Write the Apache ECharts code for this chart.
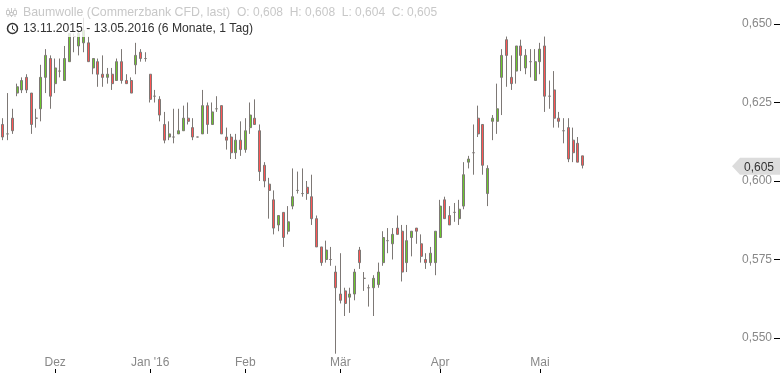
<!DOCTYPE html>
<html>
<head>
<meta charset="utf-8">
<script src="https://cdn.jsdelivr.net/npm/echarts@6/dist/echarts.min.js"></script>
<style>
  html, body { margin: 0; padding: 0; background: #fff; }
  #main { width: 780px; height: 373px; }
</style>
</head>
<body>
<div id="main"></div>
<script>
const dates = [
  '13.11.2015', '16.11.2015', '17.11.2015', '18.11.2015', '19.11.2015', '20.11.2015', '23.11.2015', '24.11.2015', '25.11.2015', '27.11.2015', '30.11.2015',
  '01.12.2015', '02.12.2015', '03.12.2015', '04.12.2015', '07.12.2015', '08.12.2015', '09.12.2015', '10.12.2015', '11.12.2015', '14.12.2015',
  '15.12.2015', '16.12.2015', '17.12.2015', '18.12.2015', '21.12.2015', '22.12.2015', '23.12.2015', '28.12.2015', '29.12.2015', '30.12.2015',
  '04.01.2016', '05.01.2016', '06.01.2016', '07.01.2016', '08.01.2016', '11.01.2016', '12.01.2016', '13.01.2016', '14.01.2016', '15.01.2016',
  '18.01.2016', '19.01.2016', '20.01.2016', '21.01.2016', '22.01.2016', '25.01.2016', '26.01.2016', '27.01.2016', '28.01.2016', '29.01.2016',
  '01.02.2016', '02.02.2016', '03.02.2016', '04.02.2016', '05.02.2016', '08.02.2016', '09.02.2016', '10.02.2016', '11.02.2016', '12.02.2016',
  '16.02.2016', '17.02.2016', '18.02.2016', '19.02.2016', '22.02.2016', '23.02.2016', '24.02.2016', '25.02.2016', '26.02.2016', '29.02.2016',
  '01.03.2016', '02.03.2016', '03.03.2016', '04.03.2016', '07.03.2016', '08.03.2016', '09.03.2016', '10.03.2016', '11.03.2016', '14.03.2016',
  '15.03.2016', '16.03.2016', '17.03.2016', '18.03.2016', '21.03.2016', '22.03.2016', '23.03.2016', '24.03.2016', '29.03.2016', '30.03.2016', '31.03.2016',
  '01.04.2016', '04.04.2016', '05.04.2016', '06.04.2016', '07.04.2016', '08.04.2016', '11.04.2016', '12.04.2016', '13.04.2016', '14.04.2016',
  '15.04.2016', '18.04.2016', '19.04.2016', '20.04.2016', '21.04.2016', '22.04.2016', '25.04.2016', '26.04.2016', '27.04.2016', '28.04.2016', '29.04.2016',
  '02.05.2016', '03.05.2016', '04.05.2016', '05.05.2016', '06.05.2016', '09.05.2016', '10.05.2016', '11.05.2016', '12.05.2016', '13.05.2016'
];

const opens = [
  0.618, 0.615, 0.620, 0.628, 0.629, 0.633, 0.628, 0.620, 0.623, 0.633,
  0.639, 0.631, 0.635, 0.632, 0.638, 0.646, 0.643, 0.644, 0.644, 0.636,
  0.638, 0.634, 0.633, 0.634, 0.632, 0.638, 0.632, 0.632, 0.637, 0.641,
  0.639, 0.634, 0.627, 0.626, 0.618, 0.614, 0.614, 0.615, 0.616, 0.620,
  0.617, 0.614, 0.615, 0.624, 0.618, 0.623, 0.624, 0.614, 0.614, 0.609,
  0.613, 0.610, 0.617, 0.620, 0.616, 0.605, 0.599, 0.594, 0.586, 0.590,
  0.584, 0.592, 0.597, 0.596, 0.598, 0.595, 0.588, 0.579, 0.575, 0.575,
  0.571, 0.564, 0.565, 0.563, 0.564, 0.578, 0.569, 0.566, 0.566, 0.567,
  0.574, 0.581, 0.580, 0.585, 0.584, 0.574, 0.582, 0.585, 0.580, 0.575,
  0.574, 0.574, 0.582, 0.594, 0.589, 0.590, 0.588, 0.592, 0.606, 0.609,
  0.620, 0.618, 0.596, 0.619, 0.619, 0.633, 0.645, 0.633, 0.635, 0.643,
  0.636, 0.638, 0.632, 0.638, 0.643, 0.627, 0.629, 0.620, 0.616, 0.617,
  0.613, 0.612, 0.608
];
const closes = [
  0.614, 0.615, 0.616, 0.630, 0.632, 0.629, 0.618, 0.620, 0.633, 0.640,
  0.627, 0.636, 0.635, 0.639, 0.647, 0.646, 0.647, 0.648, 0.638, 0.639,
  0.634, 0.633, 0.634, 0.631, 0.638, 0.632, 0.631, 0.628, 0.640, 0.639,
  0.639, 0.626, 0.627, 0.621, 0.613, 0.615, 0.614, 0.616, 0.620, 0.619,
  0.614, 0.614, 0.624, 0.618, 0.622, 0.623, 0.615, 0.613, 0.609, 0.613,
  0.610, 0.616, 0.621, 0.618, 0.603, 0.600, 0.597, 0.585, 0.589, 0.582,
  0.587, 0.595, 0.597, 0.596, 0.596, 0.588, 0.579, 0.574, 0.578, 0.575,
  0.566, 0.562, 0.561, 0.564, 0.571, 0.574, 0.569, 0.566, 0.569, 0.571,
  0.582, 0.581, 0.583, 0.583, 0.571, 0.581, 0.584, 0.584, 0.576, 0.574,
  0.577, 0.584, 0.592, 0.588, 0.586, 0.590, 0.591, 0.602, 0.607, 0.609,
  0.615, 0.605, 0.604, 0.620, 0.623, 0.640, 0.640, 0.631, 0.643, 0.640,
  0.640, 0.638, 0.638, 0.642, 0.627, 0.627, 0.620, 0.619, 0.616, 0.607,
  0.609, 0.606, 0.605
];
const lows = [
  0.613, 0.613, 0.615, 0.627, 0.628, 0.628, 0.615, 0.617, 0.619, 0.628,
  0.623, 0.628, 0.633, 0.632, 0.638, 0.641, 0.640, 0.641, 0.638, 0.634,
  0.630, 0.630, 0.631, 0.629, 0.632, 0.631, 0.631, 0.628, 0.634, 0.638,
  0.638, 0.625, 0.625, 0.619, 0.612, 0.613, 0.612, 0.615, 0.616, 0.618,
  0.613, 0.614, 0.615, 0.615, 0.618, 0.622, 0.615, 0.610, 0.607, 0.607,
  0.608, 0.609, 0.615, 0.618, 0.600, 0.598, 0.588, 0.583, 0.584, 0.579,
  0.583, 0.591, 0.596, 0.595, 0.594, 0.586, 0.579, 0.573, 0.574, 0.573,
  0.545, 0.561, 0.557, 0.558, 0.562, 0.572, 0.565, 0.560, 0.557, 0.566,
  0.573, 0.577, 0.575, 0.583, 0.568, 0.571, 0.576, 0.580, 0.574, 0.572,
  0.573, 0.570, 0.582, 0.588, 0.586, 0.587, 0.586, 0.591, 0.604, 0.602,
  0.614, 0.602, 0.592, 0.613, 0.615, 0.621, 0.630, 0.629, 0.631, 0.635,
  0.634, 0.633, 0.632, 0.634, 0.622, 0.623, 0.617, 0.617, 0.612, 0.606,
  0.606, 0.606, 0.604
];
const highs = [
  0.620, 0.628, 0.623, 0.631, 0.633, 0.634, 0.628, 0.623, 0.637, 0.642,
  0.640, 0.639, 0.639, 0.643, 0.647, 0.647, 0.648, 0.652, 0.646, 0.639,
  0.639, 0.640, 0.636, 0.636, 0.639, 0.642, 0.634, 0.633, 0.644, 0.642,
  0.641, 0.634, 0.629, 0.627, 0.622, 0.619, 0.623, 0.623, 0.624, 0.625,
  0.620, 0.614, 0.629, 0.625, 0.625, 0.627, 0.624, 0.617, 0.615, 0.615,
  0.619, 0.620, 0.625, 0.626, 0.618, 0.606, 0.601, 0.597, 0.589, 0.590,
  0.592, 0.604, 0.603, 0.604, 0.600, 0.602, 0.589, 0.579, 0.581, 0.579,
  0.573, 0.577, 0.566, 0.566, 0.572, 0.579, 0.571, 0.567, 0.570, 0.574,
  0.584, 0.585, 0.585, 0.589, 0.586, 0.586, 0.584, 0.585, 0.583, 0.577,
  0.579, 0.584, 0.594, 0.595, 0.592, 0.593, 0.594, 0.606, 0.608, 0.618,
  0.624, 0.618, 0.605, 0.621, 0.631, 0.642, 0.646, 0.640, 0.643, 0.645,
  0.642, 0.642, 0.642, 0.644, 0.646, 0.632, 0.635, 0.622, 0.620, 0.620,
  0.617, 0.614, 0.608
];

const emptySlots = new Array(41).fill('');  // free room between last candle and price scale
const yTicks = [0.55, 0.575, 0.6, 0.625, 0.65];
const monthDates = ['01.12.2015', '04.01.2016', '01.02.2016', '01.03.2016', '01.04.2016', '02.05.2016'];
const monthLabels = ['Dez', "Jan '16", 'Feb', 'Mär', 'Apr', 'Mai'];

const titleText = 'Baumwolle (Commerzbank CFD, last)';
const ohlcText = 'O: 0,608  H: 0,608  L: 0,604  C: 0,605';
const rangeText = '13.11.2015 - 13.05.2016 (6 Monate, 1 Tag)';
const lastPrice = closes[closes.length - 1];

const fontName = '"Liberation Sans", Arial, sans-serif';
const wickColor = '#7d7875';

function priceText(v) {
  return v.toFixed(3).replace('.', ',');
}

const candles = dates.map((d, i) => [opens[i], closes[i], lows[i], highs[i]]);

const chart = echarts.init(document.getElementById('main'), null, {renderer: 'canvas'});
chart.setOption({
  animation: false,
  backgroundColor: '#fff',
  grid: {left: 0.5, right: 0, top: 0, bottom: 0},
  xAxis: {
    type: 'category',
    data: dates.concat(emptySlots),
    axisLine: {show: false},
    axisTick: {
      show: true,
      inside: true,
      length: 4,
      alignWithLabel: true,
      interval: (i, v) => monthDates.includes(v),
      lineStyle: {color: '#000'},
    },
    axisLabel: {
      inside: true,
      margin: 4,
      color: '#888',
      fontFamily: fontName,
      fontSize: 12,
      interval: (i, v) => monthDates.includes(v),
      formatter: (v) => monthLabels[monthDates.indexOf(v)],
    },
    splitLine: {show: false},
  },
  yAxis: {
    type: 'value',
    position: 'right',
    min: 0.53885,
    max: 0.65764,
    axisLine: {show: false},
    axisTick: {
      show: true,
      inside: true,
      length: 6,
      customValues: yTicks,
      lineStyle: {color: '#000'},
    },
    axisLabel: {
      inside: true,
      margin: 8,
      padding: [5, 0, 0, 0],
      color: '#888',
      fontFamily: fontName,
      fontSize: 12,
      customValues: yTicks,
      formatter: priceText,
    },
    splitLine: {show: false},
  },
  series: [
    {
      type: 'candlestick',
      data: candles,
      barWidth: 2.5,
      itemStyle: {
        color: '#6cc82e',
        color0: '#ff5555',
        borderColor: wickColor,
        borderColor0: wickColor,
        borderColorDoji: wickColor,
        borderWidth: 1,
      },
      markPoint: {
        silent: true,
        symbol: 'path://M8 0 L48 0 L48 17 L8 17 L0 8.5 Z',
        symbolSize: [48, 17],
        symbolOffset: [-21.6, 1],
        itemStyle: {color: '#dcdcdc', borderWidth: 0},
        label: {
          show: true,
          position: 'inside',
          offset: [3, 1],
          color: '#333',
          fontFamily: fontName,
          fontSize: 12,
          formatter: () => priceText(lastPrice),
        },
        data: [{coord: [163, lastPrice]}],
      },
    },
  ],
  graphic: [
    // faded band behind the header
    {type: 'rect', z: 10, silent: true, shape: {x: 0, y: 0, width: 258, height: 37}, style: {fill: 'rgba(255,255,255,0.8)'}},
    {type: 'text', z: 11, x: 23, y: 7, style: {text: titleText, fill: '#c8c8c8', font: '12.35px ' + fontName}},
    {type: 'text', z: 11, x: 237, y: 7, style: {text: ohlcText, fill: '#c8c8c8', font: '12px ' + fontName}},
    {type: 'text', z: 11, x: 23, y: 23, style: {text: rangeText, fill: '#333', font: '12.15px ' + fontName}},
    // clock icon
    {type: 'circle', z: 11, shape: {cx: 12.5, cy: 28.5, r: 5}, style: {fill: 'none', stroke: '#333', lineWidth: 1.5}},
    {type: 'polyline', z: 11, shape: {points: [[12.5, 25.5], [12.5, 29], [15, 30.5]]}, style: {fill: 'none', stroke: '#333', lineWidth: 1}},
    // candle icon
    {type: 'polyline', z: 11, shape: {points: [[8, 8], [8, 17]]}, style: {stroke: '#c8c8c8', lineWidth: 1}},
    {type: 'polyline', z: 11, shape: {points: [[11.5, 8], [11.5, 17]]}, style: {stroke: '#c8c8c8', lineWidth: 1}},
    {type: 'polyline', z: 11, shape: {points: [[15, 8], [15, 17]]}, style: {stroke: '#c8c8c8', lineWidth: 1}},
    {type: 'rect', z: 11, shape: {x: 6.5, y: 10.5, width: 3, height: 4}, style: {fill: '#fff', stroke: '#c8c8c8'}},
    {type: 'rect', z: 11, shape: {x: 10, y: 12.5, width: 3, height: 3}, style: {fill: '#fff', stroke: '#c8c8c8'}},
    {type: 'rect', z: 11, shape: {x: 13.5, y: 10.5, width: 3, height: 4}, style: {fill: '#fff', stroke: '#c8c8c8'}},
  ],
});
</script>
</body>
</html>
